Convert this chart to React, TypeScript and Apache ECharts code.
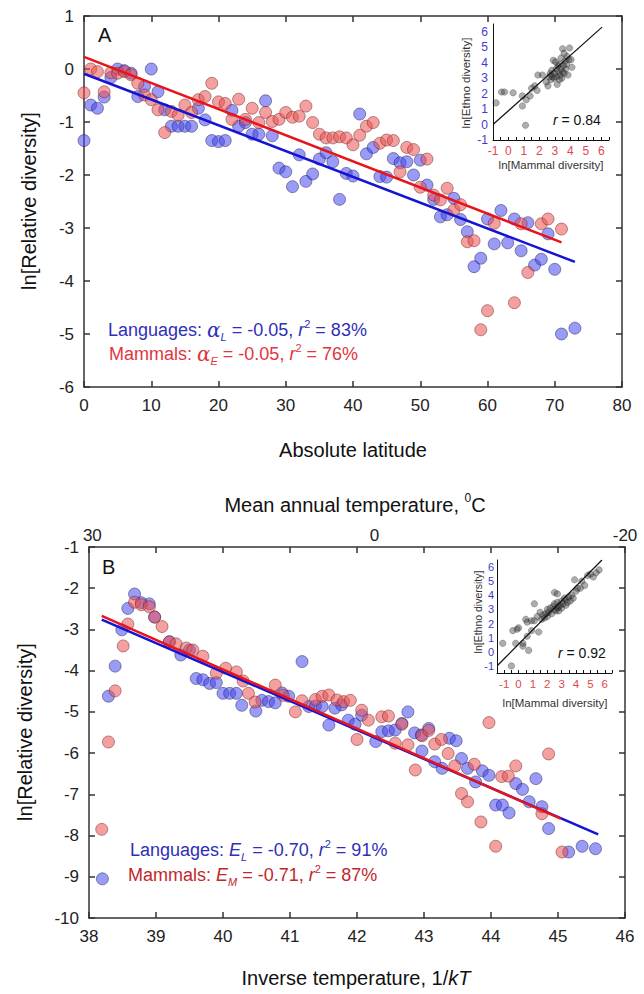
import { useEffect, useRef } from 'react';
import * as echarts from 'echarts';

const FONT = '"Liberation Sans", Arial, Helvetica, sans-serif';

// ---------- Panel A: ln[relative diversity] vs absolute latitude ----------
const latLanguages: number[][] = [
  [0, -1.35], [1, -0.68], [2, -0.74], [3, -0.53], [4, -0.16], [5, 0.0], [6, -0.03], [7, -0.08],
  [8, -0.52], [9, -0.33], [10, 0.0], [11, -0.43], [12, -0.77], [13, -1.08], [14, -1.08], [15, -1.08],
  [16, -1.08], [17, -0.74], [18, -0.96], [19, -1.35], [20, -1.37], [21, -1.35], [22, -0.78], [23, -1.08],
  [24, -1.01], [25, -1.23], [26, -1.23], [27, -0.6], [28, -1.26], [29, -1.87], [30, -1.94], [31, -2.22],
  [32, -1.62], [33, -2.12], [34, -1.98], [35, -1.7], [36, -1.58], [37, -1.75], [38, -2.46], [39, -1.97],
  [40, -2.02], [41, -0.85], [42, -1.6], [43, -1.48], [44, -2.03], [45, -2.04], [46, -1.69], [47, -1.77],
  [48, -1.75], [49, -2.0], [50, -1.72], [51, -2.19], [52, -2.46], [53, -2.79], [54, -2.75], [55, -2.44],
  [56, -2.84], [57, -3.07], [58, -3.73], [59, -3.57], [60, -2.83], [61, -3.3], [62, -2.67], [63, -3.28],
  [64, -2.83], [65, -3.43], [66, -2.9], [67, -3.7], [68, -3.59], [69, -3.11], [70, -3.78], [71, -5.0], [73, -4.89],
];
const latMammals: number[][] = [
  [0, -0.45], [1, 0.0], [2, -0.05], [3, -0.43], [4, -0.07], [5, -0.08], [6, -0.05], [7, -0.11],
  [8, -0.27], [9, -0.49], [10, -0.58], [11, -0.77], [12, -1.2], [13, -0.8], [14, -0.87], [15, -0.68],
  [16, -0.82], [17, -0.58], [18, -0.52], [19, -0.27], [20, -0.62], [21, -0.65], [22, -0.95], [23, -0.57],
  [24, -0.95], [25, -0.74], [26, -1.01], [27, -0.82], [28, -0.99], [29, -0.95], [30, -0.82], [31, -0.91],
  [32, -0.89], [33, -0.7], [34, -1.01], [35, -1.23], [36, -1.3], [37, -1.3], [38, -1.28], [39, -1.3],
  [40, -1.43], [41, -1.25], [42, -1.08], [43, -1.01], [44, -1.4], [45, -1.34], [46, -1.35], [47, -1.94],
  [48, -1.48], [49, -1.52], [50, -2.23], [51, -1.7], [52, -2.38], [53, -2.47], [54, -2.25], [55, -2.66],
  [56, -2.56], [57, -3.26], [58, -3.24], [59, -4.92], [60, -4.56], [61, -2.91], [64, -4.41], [65, -2.92],
  [66, -3.84], [68, -2.92], [69, -2.83], [71, -3.02],
];
const latLanguagesFit: number[][] = [[0, -0.09], [73, -3.64]];
const latMammalsFit: number[][] = [[0, 0.23], [71, -3.27]];

const insetA: number[][] = [
  [-0.8, 1.4], [-0.45, 2.1], [-0.25, 2.1], [0.3, 2.05], [0.9, 1.85], [1.1, -0.05], [0.9, 1.2], [1.15, 1.6],
  [1.4, 1.85], [1.5, 2.35], [1.7, 2.5], [1.85, 2.2], [1.9, 3.2], [2.2, 3.2], [2.45, 2.75], [2.55, 2.5],
  [2.65, 3.1], [2.7, 3.3], [2.75, 2.9], [2.8, 3.5], [2.85, 3.1], [2.9, 4.15], [2.95, 3.0], [3.0, 3.3],
  [3.05, 4.05], [3.1, 3.1], [3.1, 3.6], [3.15, 2.6], [3.2, 3.8], [3.25, 3.4], [3.3, 2.9], [3.3, 3.9],
  [3.35, 3.2], [3.4, 4.3], [3.4, 3.6], [3.45, 3.0], [3.5, 3.4], [3.5, 4.9], [3.55, 3.8], [3.6, 4.6],
  [3.6, 3.3], [3.65, 4.1], [3.7, 3.6], [3.75, 3.9], [3.8, 4.4], [3.85, 3.2], [3.9, 4.2], [3.95, 4.95],
  [4.05, 4.2], [4.1, 3.7],
];
const insetAFit: number[][] = [[-1, 0], [6.05, 6.3]];

// ---------- Panel B: ln[relative diversity] vs inverse temperature ----------
const tempLanguages: number[][] = [
  [38.2, -9.05], [38.29, -4.62], [38.39, -3.89], [38.49, -3.01], [38.58, -2.49], [38.68, -2.14], [38.78, -2.35],
  [38.9, -2.38], [38.98, -2.7], [39.2, -3.3], [39.37, -3.62], [39.5, -3.5], [39.6, -4.19], [39.7, -4.22],
  [39.8, -4.31], [39.9, -4.29], [40.0, -4.55], [40.1, -4.55], [40.2, -4.55], [40.28, -4.84], [40.49, -4.98],
  [40.58, -4.72], [40.68, -4.75], [40.78, -4.78], [40.88, -4.54], [40.98, -4.62], [41.18, -3.78], [41.28, -4.87],
  [41.38, -4.86], [41.48, -4.87], [41.58, -5.32], [41.67, -4.91], [41.77, -4.83], [41.87, -5.2], [41.97, -5.3],
  [42.07, -5.08], [42.28, -5.72], [42.37, -5.48], [42.47, -5.46], [42.57, -5.44], [42.67, -5.28], [42.76, -5.0],
  [42.86, -5.51], [42.96, -5.56], [42.97, -5.95], [43.07, -5.4], [43.16, -6.21], [43.27, -6.37], [43.38, -5.64],
  [43.48, -5.7], [43.56, -6.13], [43.65, -6.37], [43.77, -6.7], [43.87, -6.43], [43.97, -6.54], [44.07, -7.26],
  [44.17, -7.26], [44.27, -7.45], [44.37, -6.74], [44.47, -6.88], [44.57, -7.18], [44.67, -6.62], [44.76, -7.3],
  [44.86, -7.83], [45.16, -8.4], [45.36, -8.26], [45.56, -8.32],
];
const tempMammals: number[][] = [
  [38.19, -7.85], [38.29, -5.73], [38.39, -4.49], [38.51, -3.4], [38.58, -2.87], [38.68, -2.34], [38.78, -2.4],
  [38.9, -2.45], [38.98, -2.7], [39.09, -2.93], [39.2, -3.3], [39.3, -3.35], [39.45, -3.45], [39.55, -3.5],
  [39.7, -3.65], [39.9, -4.06], [40.04, -3.94], [40.2, -4.03], [40.3, -4.25], [40.38, -4.55], [40.48, -4.76],
  [40.78, -4.35], [40.9, -4.6], [41.08, -5.0], [41.18, -4.73], [41.38, -4.7], [41.48, -4.62], [41.58, -4.59],
  [41.7, -4.71], [41.8, -4.75], [41.9, -4.72], [42.0, -5.67], [42.07, -4.96], [42.17, -5.2], [42.37, -5.12],
  [42.47, -5.1], [42.57, -5.76], [42.67, -5.3], [42.76, -5.8], [42.87, -6.41], [42.97, -5.58], [43.07, -5.45],
  [43.16, -5.78], [43.26, -5.67], [43.36, -6.01], [43.46, -6.31], [43.56, -6.98], [43.65, -7.18], [43.75, -6.27],
  [43.85, -7.67], [43.97, -5.26], [44.07, -8.26], [44.16, -6.57], [44.26, -6.56], [44.37, -6.31], [44.76, -7.47],
  [44.86, -6.02], [45.06, -8.4],
];
const tempLanguagesFit: number[][] = [[38.19, -2.76], [45.6, -7.97]];
const tempMammalsFit: number[][] = [[38.19, -2.67], [45.04, -7.59]];

const insetB: number[][] = [
  [-1.1, 0.6], [-0.5, -1.0], [-0.4, 1.5], [-0.1, 1.6], [0.0, 1.7], [-0.2, 0.6], [0.3, 0.6], [0.3, 0.4],
  [0.6, 1.1], [0.7, 0.1], [0.5, 2.3], [0.6, 2.1], [0.9, 2.2], [1.1, 2.2], [0.9, 1.5], [1.4, 1.4],
  [1.1, 3.4], [1.3, 2.5], [1.5, 2.8], [1.6, 2.3], [1.7, 2.6], [1.8, 2.4], [1.9, 2.7], [2.0, 2.5],
  [2.0, 3.0], [2.1, 2.8], [2.5, 4.2], [2.7, 4.1], [2.2, 3.1], [2.3, 2.7], [2.4, 3.2], [2.5, 3.0],
  [2.5, 3.4], [2.6, 2.9], [2.7, 3.1], [2.7, 3.5], [2.8, 3.2], [2.8, 2.9], [2.9, 3.3], [3.0, 3.1],
  [3.0, 3.6], [3.1, 3.4], [3.2, 3.8], [3.3, 3.3], [3.3, 3.7], [3.4, 3.5], [3.5, 3.9], [3.6, 3.6],
  [3.7, 4.0], [3.8, 3.8], [3.9, 5.1], [4.0, 4.3], [4.1, 4.5], [4.3, 4.5], [4.4, 5.0], [4.6, 4.7],
  [4.8, 5.4], [5.0, 5.5], [5.2, 5.3], [5.4, 5.6], [5.6, 5.8],
];
const insetBFit: number[][] = [[-1.45, -0.95], [5.8, 6.5]];

const tempTopLabels = ['30', '0', '-20'];
const tempTopLabelAt = [38.05, 42.26, 46.0];

// ---------- layout ----------
const GA = { left: 84, top: 16, width: 538, height: 371 };
const GAI = { left: 493, top: 24, width: 116, height: 116 };
const GB = { left: 89, top: 547, width: 536, height: 371 };
const GBI = { left: 497, top: 560, width: 115, height: 113 };

const BLUE_TXT = '#2f2fb8';
const RED_TXT = '#e43440';
const DRED_TXT = '#c0282c';

function richStyles(color: string, size: number) {
  const small = Math.round(size * 0.62);
  return {
    n: { fontSize: size, fill: color, fontFamily: FONT, lineHeight: size + 6 },
    i: { fontSize: size, fill: color, fontFamily: FONT, fontStyle: 'italic', lineHeight: size + 6 },
    g: { fontSize: size + 2, fill: color, fontFamily: 'DejaVu Serif, serif', fontStyle: 'italic', lineHeight: size + 6 },
    sub: { fontSize: small, fill: color, fontFamily: FONT, fontStyle: 'italic', verticalAlign: 'bottom', lineHeight: small },
    sup: { fontSize: small, fill: color, fontFamily: FONT, verticalAlign: 'top', lineHeight: small },
  };
}

function txt(text: string, x: number, y: number, color: string, size: number, opts: any = {}) {
  return {
    type: 'text',
    x,
    y,
    rotation: opts.rotation || 0,
    silent: true,
    style: {
      text,
      rich: richStyles(color, size),
      fill: color,
      fontSize: size,
      fontFamily: FONT,
      align: opts.align || 'left',
      verticalAlign: 'middle',
    },
  };
}

const mainLine = { show: true, onZero: false, lineStyle: { color: '#333', width: 1.5 } };
const mainTick = { show: true, inside: true, length: 6, lineStyle: { color: '#333', width: 1.5 } };
const mainLabel = { color: '#222', fontSize: 17, fontFamily: FONT };

function mainAxis(grid: number, min: number, max: number, interval: number, position: string, labels: boolean) {
  return {
    type: 'value',
    gridIndex: grid,
    position,
    min,
    max,
    interval,
    axisLine: mainLine,
    axisTick: mainTick,
    axisLabel: labels ? { ...mainLabel, margin: 10 } : { show: false },
    splitLine: { show: false },
  };
}

const intOnly = (v: number) => (Number.isInteger(v) ? String(v) : '');

function insetAxis(grid: number, min: number, max: number, color: string, ticks: boolean, position: string, size = 12, margin = 5) {
  return {
    type: 'value',
    gridIndex: grid,
    position,
    min,
    max,
    interval: 0.5,
    axisLine: { show: true, onZero: false, lineStyle: { color: '#111', width: 1 } },
    axisTick: { show: ticks, inside: true, length: 3, lineStyle: { color: '#111', width: 1 } },
    axisLabel: { color, fontSize: size, fontFamily: FONT, margin, formatter: intOnly },
    splitLine: { show: false },
  };
}

const blueItem = { color: 'rgba(70,70,240,0.68)', borderColor: 'rgba(30,30,90,0.6)', borderWidth: 1 };
const redItem = { color: 'rgba(235,80,80,0.68)', borderColor: 'rgba(110,30,30,0.6)', borderWidth: 1 };
const grayItem = { color: 'rgba(50,50,50,0.5)', borderColor: 'rgba(0,0,0,0.35)', borderWidth: 0.8 };

function scatter(data: number[][], xi: number, yi: number, item: any, size: number, name: string) {
  return { type: 'scatter', name, xAxisIndex: xi, yAxisIndex: yi, data, symbolSize: size, itemStyle: item, silent: true };
}
function fit(data: number[][], xi: number, yi: number, color: string, width: number, name: string) {
  return {
    type: 'line', name, xAxisIndex: xi, yAxisIndex: yi, data, showSymbol: false, silent: true, z: 5,
    lineStyle: { color, width }, clip: true,
  };
}

export default function App() {
  const ref = useRef<HTMLDivElement>(null);
  useEffect(() => {
    if (!ref.current) return;
    const chart = echarts.init(ref.current, undefined, { renderer: 'svg' });

    const topLabels = tempTopLabels.map((t, i) =>
      txt(t, GB.left + ((tempTopLabelAt[i] - 38) / 8) * GB.width, 535, '#222', 17, { align: 'center' })
    );

    chart.setOption({
      animation: false,
      backgroundColor: '#fff',
      grid: [
        { ...GA, containLabel: false },
        { ...GAI, containLabel: false },
        { ...GB, containLabel: false },
        { ...GBI, containLabel: false },
      ],
      xAxis: [
        mainAxis(0, 0, 80, 10, 'bottom', true),
        mainAxis(0, 0, 80, 10, 'top', false),
        insetAxis(1, -1, 6.5, '#e0484e', true, 'bottom'),
        mainAxis(2, 38, 46, 1, 'bottom', true),
        mainAxis(2, 38, 46, 1, 'top', false),
        insetAxis(3, -1.5, 6.5, '#e0484e', true, 'bottom', 11.5, 5),
      ],
      yAxis: [
        mainAxis(0, -6, 1, 1, 'left', true),
        mainAxis(0, -6, 1, 1, 'right', false),
        insetAxis(1, -1, 6.5, '#3c3cd0', false, 'left'),
        mainAxis(2, -10, -1, 1, 'left', true),
        mainAxis(2, -10, -1, 1, 'right', false),
        insetAxis(3, -1.5, 6.5, '#3c3cd0', false, 'left', 11, 3),
      ],
      series: [
        scatter(latLanguages, 0, 0, blueItem, 12, 'Languages'),
        scatter(latMammals, 0, 0, redItem, 12, 'Mammals'),
        fit(latLanguagesFit, 0, 0, '#1414d2', 2.5, 'Languages fit'),
        fit(latMammalsFit, 0, 0, '#e8141c', 2.5, 'Mammals fit'),
        scatter(insetA, 2, 2, grayItem, 6.5, 'Ethno vs mammal A'),
        fit(insetAFit, 2, 2, '#111', 1.2, 'Inset A fit'),
        scatter(tempLanguages, 3, 3, blueItem, 12, 'Languages B'),
        scatter(tempMammals, 3, 3, redItem, 12, 'Mammals B'),
        fit(tempLanguagesFit, 3, 3, '#1414d2', 2.5, 'Languages B fit'),
        fit(tempMammalsFit, 3, 3, '#e8141c', 2.5, 'Mammals B fit'),
        scatter(insetB, 5, 5, grayItem, 6.5, 'Ethno vs mammal B'),
        fit(insetBFit, 5, 5, '#111', 1.2, 'Inset B fit'),
      ],
      graphic: [
        txt('A', 98, 35, '#111', 20),
        txt('B', 102, 567, '#111', 20),
        txt('ln[Relative diversity]', 29, 201, '#111', 20, { align: 'center', rotation: Math.PI / 2 }),
        txt('ln[Relative diversity]', 25, 732, '#111', 20, { align: 'center', rotation: Math.PI / 2 }),
        txt('Absolute latitude', 353, 450, '#111', 20, { align: 'center' }),
        txt('{n|Mean annual temperature, }{sup|0}{n|C}', 355, 505, '#111', 20, { align: 'center' }),
        txt('{n|Inverse temperature, 1/}{i|kT}', 356, 978, '#111', 20, { align: 'center' }),
        ...topLabels,
        txt('{n|Languages: }{g|α}{sub|L}{n| = -0.05, }{i|r}{sup|2}{n| = 83%}', 108, 330, BLUE_TXT, 18),
        txt('{n|Mammals: }{g|α}{sub|E}{n| = -0.05, }{i|r}{sup|2}{n| = 76%}', 109, 354, RED_TXT, 18),
        txt('{n|Languages: }{i|E}{sub|L}{n| = -0.70, }{i|r}{sup|2}{n| = 91%}', 130, 850, BLUE_TXT, 18),
        txt('{n|Mammals: }{i|E}{sub|M}{n| = -0.71, }{i|r}{sup|2}{n| = 87%}', 128, 875, DRED_TXT, 18),
        txt('{i|r}{n| = 0.84}', 553, 120, '#111', 14),
        txt('{i|r}{n| = 0.92}', 558, 653, '#111', 14),
        txt('ln[Mammal diversity]', 551, 165, '#333', 11.5, { align: 'center' }),
        txt('ln[Mammal diversity]', 555, 703, '#333', 11.5, { align: 'center' }),
        txt('ln[Ethno diversity]', 466, 83, '#333', 11.5, { align: 'center', rotation: Math.PI / 2 }),
        txt('ln[Ethno diversity]', 478, 612, '#333', 10.5, { align: 'center', rotation: Math.PI / 2 }),
      ],
    });
    return () => chart.dispose();
  }, []);
  return <div ref={ref} style={{ position: 'absolute', left: 0, top: 0, width: 644, height: 994 }} />;
}
